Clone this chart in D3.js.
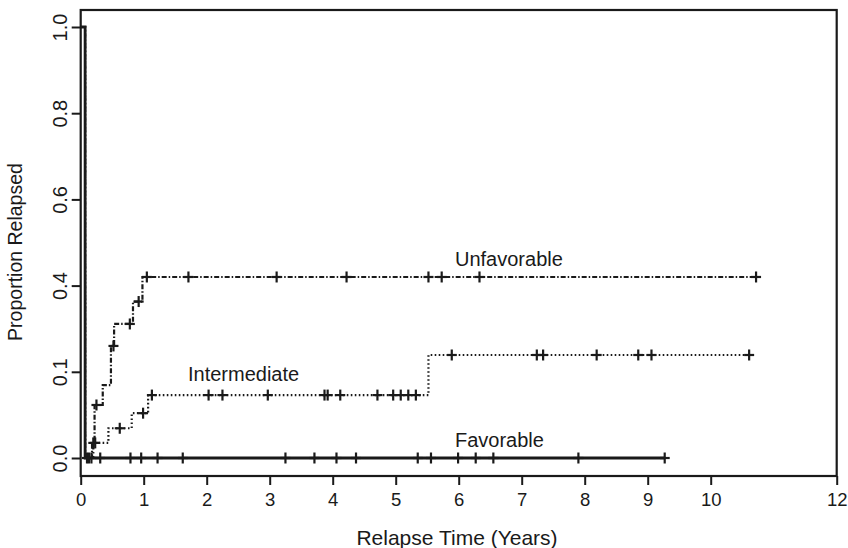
<!DOCTYPE html>
<html>
<head>
<meta charset="utf-8">
<script src="https://cdn.jsdelivr.net/npm/d3@7"></script>
<style>
  body { margin: 0; background: #fff; }
  svg { display: block; font-family: "Liberation Sans", Arial, Helvetica, sans-serif; }
</style>
</head>
<body>
<svg width="848" height="548"></svg>
<script>
// step curves: value holds from each time until the next one
const favT = [0, 0.07, 9.27]
const favP = [1, 0, 0]
const intT = [0, 0.07, 0.2, 0.44, 0.81, 1.07, 5.52, 10.61]
const intP = [1, 0, 0.035, 0.069, 0.104, 0.146, 0.239, 0.239]
const unfT = [0, 0.07, 0.18, 0.22, 0.35, 0.48, 0.53, 0.83, 0.98, 10.72]
const unfP = [1, 0, 0.035, 0.123, 0.169, 0.26, 0.311, 0.363, 0.42, 0.42]

// censored observations (+)
const favCensor = [0.1, 0.13, 0.17, 0.31, 0.79, 0.96, 1.22, 1.62, 3.25, 3.71, 4.06, 4.37, 5.35, 5.56, 5.99, 6.27, 6.55, 7.9, 9.27]
const intCensor = [0.23, 0.62, 0.99, 1.13, 2.03, 2.25, 2.97, 3.87, 3.92, 4.12, 4.71, 4.96, 5.08, 5.2, 5.32, 5.89, 7.24, 7.34, 8.19, 8.85, 9.06, 10.61]
const unfCensor = [0.2, 0.25, 0.52, 0.78, 0.92, 1.05, 1.71, 3.11, 4.22, 5.52, 5.73, 6.33, 10.72]

const xTicks = [0, 1, 2, 3, 4, 5, 6, 7, 8, 9, 10, 12]
const yTicks = [0, 0.2, 0.4, 0.6, 0.8, 1.0]
const yTickLabels = ["0.0", "0.1", "0.4", "0.6", "0.8", "1.0"]

const groupNames = ["Favorable", "Intermediate", "Unfavorable"]

const svg = d3.select("svg")
const ink = "#1a1a1a"
const boxL = 80.7, boxR = 836.7, boxT = 10, boxB = 476

const x = d3.scaleLinear().domain([0, 12]).range([boxL, boxR])
const y = d3.scaleLinear().domain([0, 1]).range([458, 27])

// frame
svg.append("rect")
  .attr("x", boxL).attr("y", boxT)
  .attr("width", boxR - boxL).attr("height", boxB - boxT)
  .attr("fill", "none").attr("stroke", ink).attr("stroke-width", 2.2)

const xAxis = svg.append("g")
  .attr("transform", `translate(0,${boxB})`)
  .call(d3.axisBottom(x).tickValues(xTicks).tickSize(9).tickPadding(8).tickFormat(d3.format("d")))
xAxis.select(".domain").remove()
xAxis.selectAll("line").attr("stroke", ink).attr("stroke-width", 2)
xAxis.selectAll("text").attr("font-size", 18.5).attr("fill", ink).attr("font-family", null)

const yAxis = svg.append("g")
  .attr("transform", `translate(${boxL},0)`)
  .call(d3.axisLeft(y).tickValues(yTicks).tickSize(9).tickFormat((d, i) => yTickLabels[i]))
yAxis.select(".domain").remove()
yAxis.selectAll("line").attr("stroke", ink).attr("stroke-width", 2)
yAxis.selectAll("text")
  .attr("x", null).attr("dy", null)
  .attr("transform", "translate(-14,0) rotate(-90)")
  .attr("text-anchor", "middle")
  .attr("font-size", 20).attr("fill", ink).attr("font-family", null)

svg.append("text")
  .attr("x", 457).attr("y", 545)
  .attr("text-anchor", "middle").attr("font-size", 21).attr("fill", ink)
  .text("Relapse Time (Years)")

svg.append("text")
  .attr("transform", "translate(22,252) rotate(-90)")
  .attr("text-anchor", "middle").attr("font-size", 19.5).attr("fill", ink)
  .text("Proportion Relapsed")

const line = d3.line().curve(d3.curveStepAfter).x(d => x(d[0])).y(d => y(d[1]))

function valueAt(ts, ps, t) {
  const i = d3.bisectRight(ts, t) - 1
  return ps[Math.max(0, i)]
}

function drawGroup(ts, ps, censor, dash, width) {
  const pts = ts.map((t, i) => [t, ps[i]])
  svg.append("path")
    .attr("d", line(pts))
    .attr("fill", "none")
    .attr("stroke", ink)
    .attr("stroke-width", width)
    .attr("stroke-dasharray", dash)
  const g = svg.append("g").attr("stroke", ink).attr("stroke-width", 2.2)
  censor.forEach(t => {
    const cx = x(t), cy = y(valueAt(ts, ps, t))
    g.append("line").attr("x1", cx - 5).attr("x2", cx + 5).attr("y1", cy).attr("y2", cy)
    g.append("line").attr("x1", cx).attr("x2", cx).attr("y1", cy - 5.5).attr("y2", cy + 5.5)
  })
}

drawGroup(unfT, unfP, unfCensor, "5,2,1.5,2", 2.2)
drawGroup(intT, intP, intCensor, "1.6,2.4", 2.2)
drawGroup(favT, favP, favCensor, null, 2.8)

// curve labels
const labelPos = [[455, 447], [188, 381], [455, 266]]
groupNames.forEach((name, i) => {
  svg.append("text")
    .attr("x", labelPos[i][0]).attr("y", labelPos[i][1])
    .attr("font-size", 20).attr("fill", ink)
    .text(name)
})
</script>
</body>
</html>
